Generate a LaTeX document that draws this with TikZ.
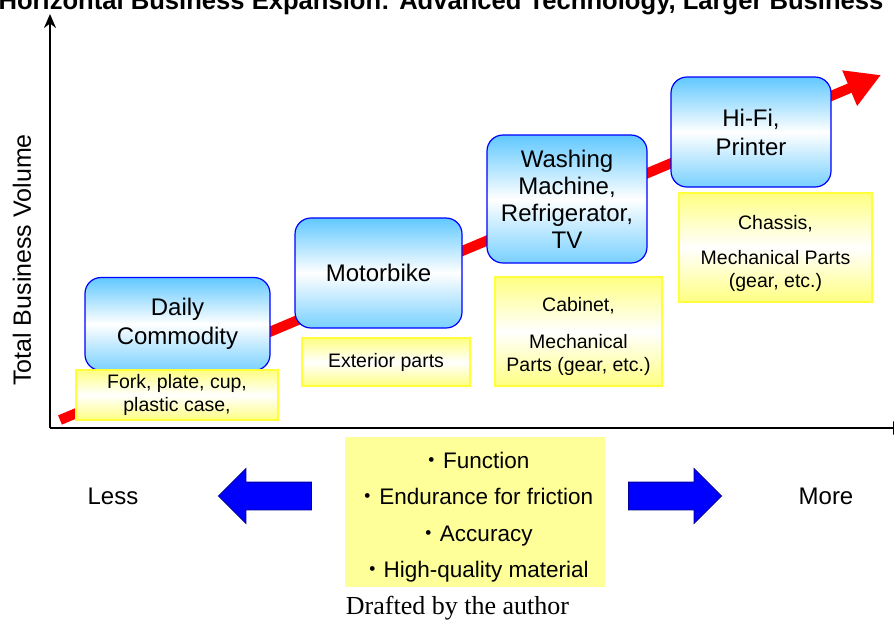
\documentclass[tikz,border=0pt]{standalone}
\usepackage{fontspec}
\setmainfont{Liberation Sans}
\newfontfamily\serifcap{Liberation Serif}
\newfontfamily\cjk{Noto Sans CJK JP}
\usetikzlibrary{arrows.meta,shapes.arrows}

\definecolor{boxblue}{RGB}{96,200,255}
\definecolor{boxline}{RGB}{0,0,255}
\definecolor{partyellow}{RGB}{255,255,130}
\definecolor{partline}{RGB}{255,255,60}
\definecolor{noteyellow}{RGB}{255,255,153}

\begin{document}
\begin{tikzpicture}[x=1pt,y=-1pt,
  product node/.style={rectangle,rounded corners=16pt,draw=boxline,line width=1.2pt,
  top color=boxblue,bottom color=boxblue!85,middle color=white,
  font=\fontsize{24}{29}\selectfont,align=center,inner sep=0pt},
  part node/.style={rectangle,draw=partline,line width=1.2pt,
  top color=partyellow,bottom color=partyellow,middle color=white,
  font=\fontsize{19.5}{23}\selectfont,align=center,inner sep=0pt},
  side arrow/.style={single arrow,fill=boxline,draw=blue!60!black,line width=0.8pt,
  minimum height=93pt,single arrow head extend=13.5pt,inner xsep=0pt,inner ysep=13.5pt},
  big text/.style={font=\fontsize{24}{29}\selectfont}]

  \useasboundingbox (0,0) rectangle (894,619);

  %Title, cut at the top edge%
  \node[font=\bfseries\fontsize{25.6}{30}\selectfont,anchor=base] (title) at (441,9.5)
    {Horizontal Business Expansion: Advanced Technology, Larger Business};

  %Axes%
  \coordinate (origin) at (50,428);
  \coordinate (yTop) at (50,14);
  \coordinate (xEnd) at (907,428);
  \draw[line width=2.2pt,-{Stealth[length=14pt,width=12pt]}] (origin) -- (yTop);
  \draw[line width=2.2pt,-{Triangle[length=14pt,width=13pt]}] (origin) -- (xEnd);
  \node[rotate=90,font=\fontsize{25}{29}\selectfont] (volume) at (22,260) {Total Business Volume};

  %Growth arrow behind the boxes%
  \coordinate (growStart) at (60,420);
  \coordinate (growEnd) at (881,75);
  \draw[line width=10pt,red,-{Triangle[length=34pt,width=36pt]}] (growStart) -- (growEnd);

  %Products%
  \node[product node,minimum width=185pt,minimum height=93pt] (daily) at (177.5,324) {Daily\\Commodity};
  \node[product node,minimum width=167pt,minimum height=110pt] (motor) at (378.5,273) {Motorbike};
  \node[product node,minimum width=160pt,minimum height=128pt,
    font=\fontsize{24}{27}\selectfont] (washing) at (567,199)
    {Washing\\Machine,\\Refrigerator,\\TV};
  \node[product node,minimum width=160pt,minimum height=110pt] (hifi) at (751,132) {Hi-Fi,\\Printer};

  %Parts%
  \node[part node,minimum width=202pt,minimum height=50pt] (fork) at (177,395)
    {Fork, plate, cup,\\plastic case,};
  \node[part node,minimum width=168pt,minimum height=48pt] (exterior) at (386,362) {Exterior parts};
  \node[part node,minimum width=167pt,minimum height=109pt] (cabinet) at (578.5,331.5)
    {\rule{0pt}{24pt}Cabinet,\\[14pt]Mechanical\\Parts (gear, etc.)};
  \node[part node,minimum width=193pt,minimum height=109pt] (chassis) at (775.5,247.5)
    {\rule{0pt}{26pt}Chassis,\\[12pt]Mechanical Parts\\(gear, etc.)};

  %Requirements%
  \node[fill=noteyellow,minimum width=260pt,minimum height=150pt,inner sep=0pt,align=center,
    font=\fontsize{22.5}{36.5}\selectfont] (quality) at (475,512)
    {\rule{0pt}{27pt}{\cjk ・}Function\\{\cjk ・}Endurance for friction\\{\cjk ・}Accuracy\\{\cjk ・}High-quality material};

  \node[big text] (less) at (113,496) {Less};
  \node[big text] (more) at (826,496) {More};
  \node[side arrow,shape border rotate=180] (lessArrow) at (272,496) {};
  \node[side arrow] (moreArrow) at (668,496) {};

  \node[font=\serifcap\fontsize{26}{30}\selectfont,anchor=base] (caption) at (457.5,614)
    {Drafted by the author};

\end{tikzpicture}
\end{document}
